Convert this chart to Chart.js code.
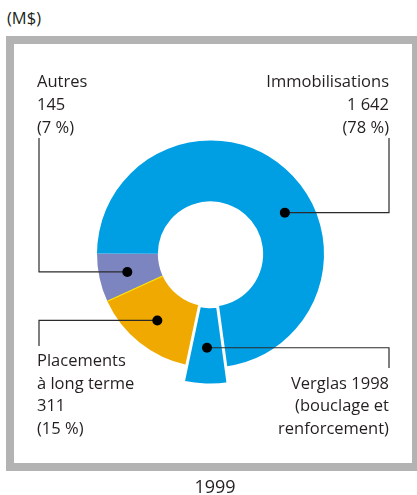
<!DOCTYPE html>
<html lang="fr">
<head>
<meta charset="utf-8">
<title>Immobilisations 1999</title>
<script src="https://cdn.jsdelivr.net/npm/chart.js@4/dist/chart.umd.min.js"></script>
<style>
    html, body {
        margin: 0;
        padding: 0;
        background: #ffffff;
    }

    .page {
        position: relative;
        width: 417px;
        height: 495px;
        overflow: hidden;
        font-family: 'Open Sans', sans-serif;
        font-size: 16.5px;
        color: #231f20;
    }

    .frame {
        position: absolute;
        left: 6px;
        top: 36px;
        width: 398px;
        height: 419px;
        border: 8px solid #b3b3b3;
    }

    #donutChart {
        position: absolute;
        left: 0;
        top: 0;
    }

    .label {
        position: absolute;
        line-height: 23px;
        white-space: nowrap;
    }

    .label.is-right {
        text-align: right;
    }

    .unit {
        position: absolute;
        left: 7px;
        top: 6px;
        line-height: 23px;
    }

    .year {
        position: absolute;
        left: 0;
        width: 430px;
        top: 474px;
        font-size: 18px;
        line-height: 24px;
        text-align: center;
    }
</style>
</head>
<body>
<div class="page">
    <div class="unit">(M$)</div>
    <div class="frame"></div>
    <canvas id="donutChart" width="417" height="495"></canvas>
    <div id="labels"></div>
    <div class="year">1999</div>
</div>

<script>
// Parts des actifs, 1999 (M$). Le Verglas 1998 est compris dans les immobilisations.
const categories = ['Placements à long terme', 'Autres', 'Immobilisations', 'Verglas 1998'];
const values = [311, 145, 1527, 115];
const colors = ['#f0a900', '#7c85bf', '#009fe3', '#009fe3'];

// Textes des étiquettes (montant total et part affichés)
const labelTitles = [['Placements', 'à long terme'], ['Autres'], ['Immobilisations'], ['Verglas 1998', '(bouclage et', 'renforcement)']];
const labelAmounts = ['311', '145', '1 642', null];
const labelShares = ['15 %', '7 %', '78 %', null];

// Mise en page des étiquettes et des traits de rappel
const labelLayout = [
    { side: 'left', x: 37, top: 349, lineHeight: 22.5, lineX: 39, lineEndY: 346, along: 0.5 },
    { side: 'left', x: 37, top: 69, lineHeight: 23, lineX: 39, lineEndY: 138, along: 0.5 },
    { side: 'right', x: 389, top: 69, lineHeight: 23, lineX: 389, lineEndY: 138, along: 0.575 },
    { side: 'right', x: 389, top: 371.5, lineHeight: 22.5, lineX: 389, lineEndY: 368, along: 0.5 }
];

const explodedIndex = 3;
const explodedExtra = 17.5;

document.addEventListener('DOMContentLoaded', function () {
    const canvas = document.getElementById('donutChart');
    const labelsBox = document.getElementById('labels');

    if (!canvas || typeof Chart === 'undefined') {
        return;
    }

    function buildLabels() {
        categories.forEach(function (category, index) {
            const layout = labelLayout[index];
            const lines = labelTitles[index].slice();

            if (labelAmounts[index]) {
                lines.push(labelAmounts[index]);
            }
            if (labelShares[index]) {
                lines.push('(' + labelShares[index] + ')');
            }

            const element = document.createElement('div');
            element.className = 'label' + (layout.side === 'right' ? ' is-right' : '');
            element.style.top = layout.top + 'px';
            element.style.lineHeight = layout.lineHeight + 'px';

            if (layout.side === 'right') {
                element.style.right = (417 - layout.x) + 'px';
            } else {
                element.style.left = layout.x + 'px';
            }

            lines.forEach(function (line) {
                const row = document.createElement('div');
                row.textContent = line;
                element.appendChild(row);
            });

            labelsBox.appendChild(element);
        });
    }

    // La tranche du verglas sort du cercle
    const explodePlugin = {
        id: 'explodeSlice',
        afterDatasetUpdate: function (chart) {
            const arc = chart.getDatasetMeta(0).data[explodedIndex];
            if (arc) {
                arc.outerRadius = arc.outerRadius + explodedExtra;
            }
        }
    };

    const leaderPlugin = {
        id: 'leaderLines',
        afterDatasetsDraw: function (chart) {
            const ctx = chart.ctx;
            const arcs = chart.getDatasetMeta(0).data;

            // fin filet jaune entre placements et autres
            const first = arcs[0];
            ctx.save();
            ctx.strokeStyle = '#ffe500';
            ctx.lineWidth = 1.2;
            ctx.beginPath();
            ctx.moveTo(first.x + Math.cos(first.endAngle) * first.innerRadius, first.y + Math.sin(first.endAngle) * first.innerRadius);
            ctx.lineTo(first.x + Math.cos(first.endAngle) * first.outerRadius, first.y + Math.sin(first.endAngle) * first.outerRadius);
            ctx.stroke();
            ctx.restore();

            arcs.forEach(function (arc, index) {
                const layout = labelLayout[index];
                const angle = arc.startAngle + (arc.endAngle - arc.startAngle) * layout.along;
                const radius = (arc.innerRadius + arc.outerRadius) / 2 + 2;
                const dotX = arc.x + Math.cos(angle) * radius;
                const dotY = arc.y + Math.sin(angle) * radius;

                ctx.save();
                ctx.strokeStyle = '#2b2b2b';
                ctx.lineWidth = 1.2;
                ctx.beginPath();
                ctx.moveTo(dotX, dotY);
                ctx.lineTo(layout.lineX, dotY);
                ctx.lineTo(layout.lineX, layout.lineEndY);
                ctx.stroke();

                ctx.fillStyle = '#000000';
                ctx.beginPath();
                ctx.arc(dotX, dotY, 5, 0, Math.PI * 2);
                ctx.fill();
                ctx.restore();
            });
        }
    };

    buildLabels();

    new Chart(canvas, {
        type: 'doughnut',
        data: {
            labels: categories,
            datasets: [{
                data: values,
                backgroundColor: colors,
                borderColor: '#ffffff',
                borderWidth: categories.map(function (category, index) {
                    return index === explodedIndex ? 3 : 0;
                })
            }]
        },
        options: {
            responsive: false,
            devicePixelRatio: 1,
            animation: false,
            rotation: 192,
            radius: 113.5,
            cutout: '46.4%',
            layout: {
                padding: { left: 4, right: 0, top: 13, bottom: 0 }
            },
            plugins: {
                legend: { display: false },
                tooltip: { enabled: false }
            }
        },
        plugins: [explodePlugin, leaderPlugin]
    });
});
</script>
</body>
</html>
